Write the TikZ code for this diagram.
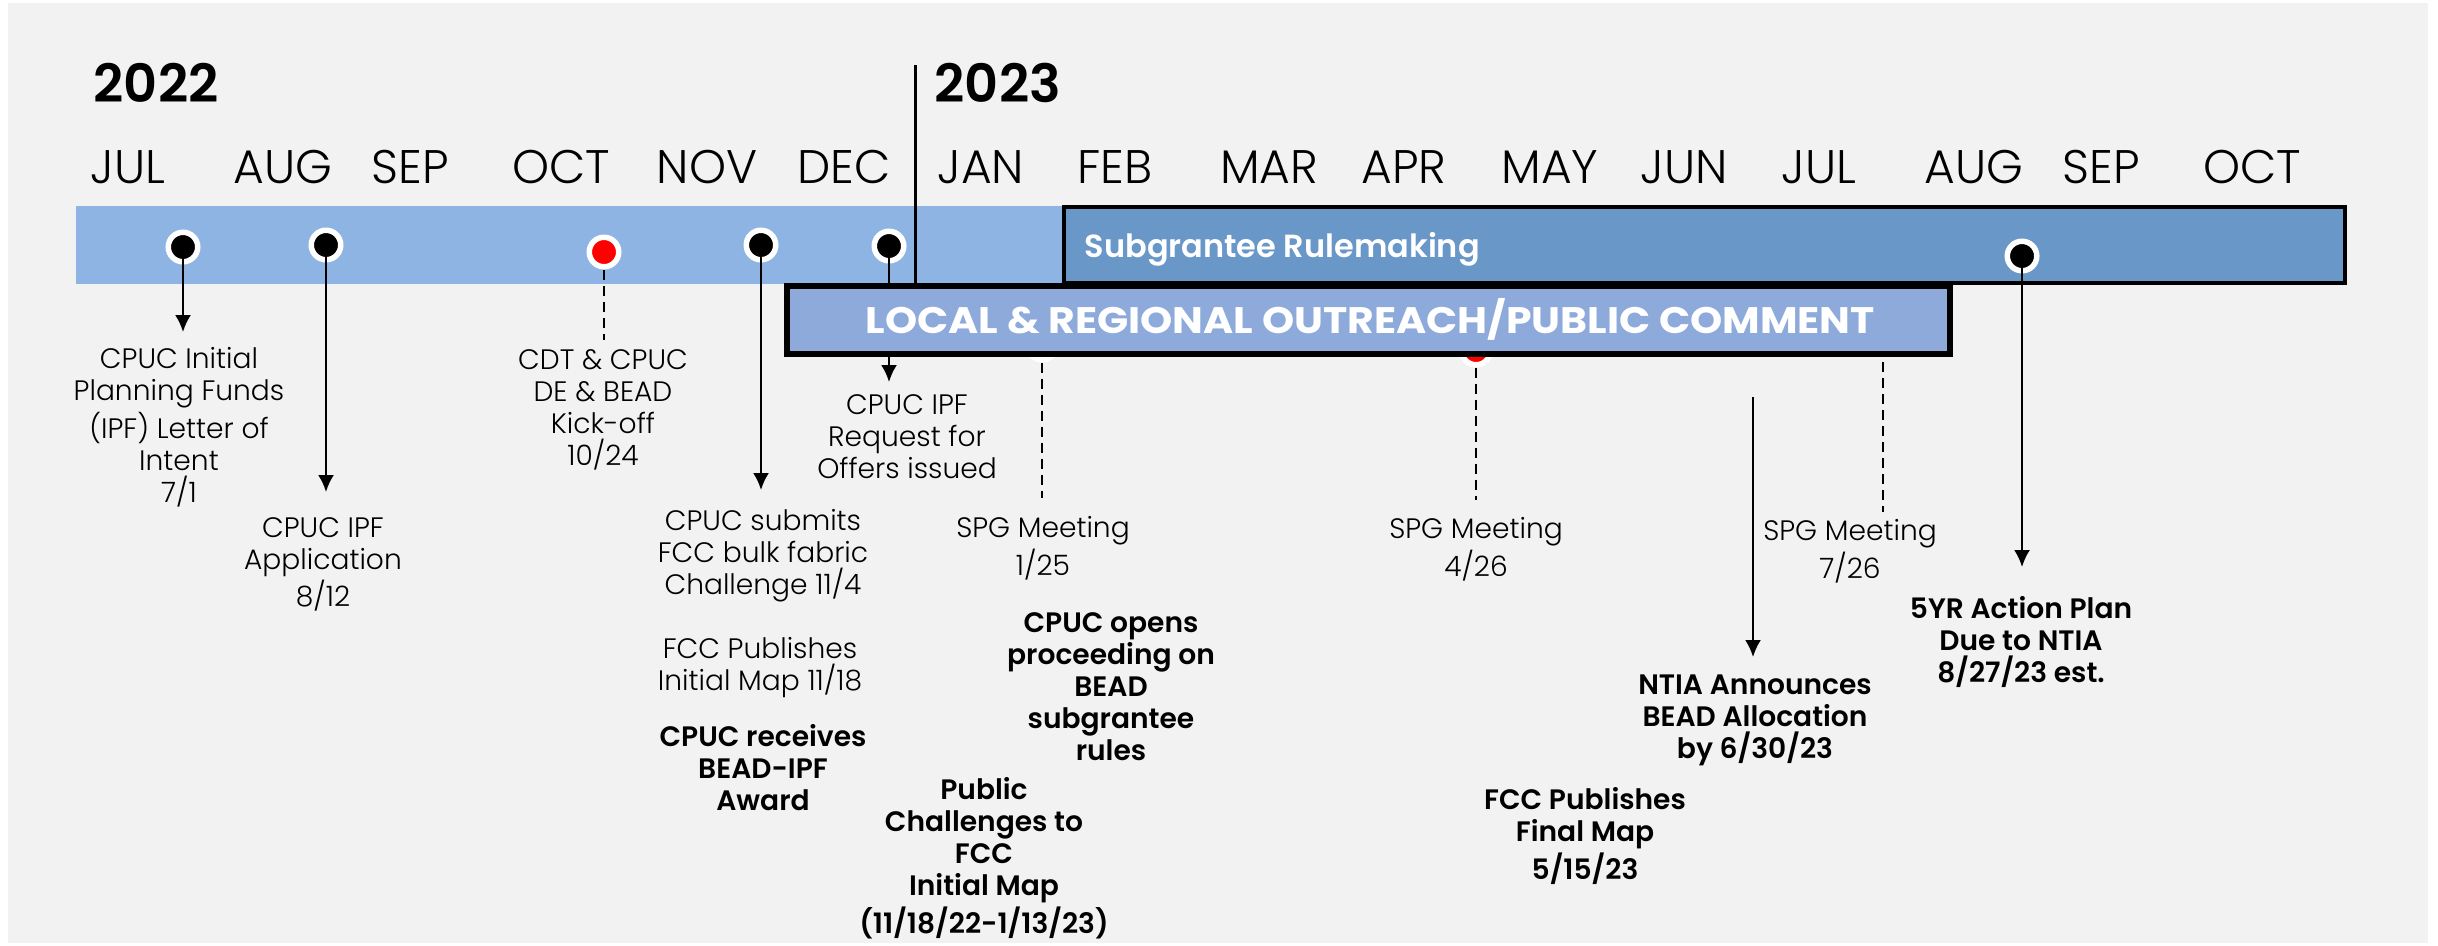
\documentclass[tikz,border=0pt]{standalone}
\usepackage{fontspec}
\setmainfont{Poppins}[UprightFont=* Light, BoldFont=* SemiBold]
\newfontfamily\bannerfont{Poppins}[FakeStretch=1.11]
\usetikzlibrary{arrows.meta}

\definecolor{pagegray}{HTML}{F2F2F2}
\definecolor{barblue}{HTML}{8EB4E3}
\definecolor{ruleblue}{HTML}{6897C8}
\definecolor{outreachblue}{HTML}{8EAADB}

\begin{document}
\begin{tikzpicture}[x=0.1mm, y=-0.1mm,
    dot/.style={circle, fill=black, draw=white, line width=0.55mm, minimum size=2.95mm, inner sep=0},
    reddot/.style={dot, fill=red},
    link/.style={line width=0.23mm, -{Latex[length=1.7mm, width=1.6mm]}},
    dashlink/.style={line width=0.2mm, dash pattern=on 1mm off 0.6mm},
    lbl/.style={anchor=north, align=center, inner sep=0, font=\fontsize{8pt}{9.1pt}\selectfont},
    blbl/.style={lbl, font=\fontsize{8pt}{9.1pt}\selectfont\bfseries},
    month/.style={anchor=base, inner sep=0, font=\fontsize{13.4pt}{14pt}\selectfont},
    year/.style={anchor=base west, inner sep=0, font=\fontsize{15pt}{16pt}\selectfont\bfseries}]
    \useasboundingbox (0,0) rectangle (2438,945);
    \fill[white] (0,0) rectangle (2438,945);
    \fill[pagegray] (8,3) rectangle (2428,943);

    % years and months
    \node[year] (y2022) at (93,102) {2022};
    \node[year] (y2023) at (934,102) {2023};
    \foreach \m/\x [count=\i] in {JUL/128, AUG/283, SEP/410, OCT/561, NOV/707, DEC/844,
        JAN/981, FEB/1115, MAR/1269, APR/1404, MAY/1550, JUN/1684, JUL/1819,
        AUG/1974, SEP/2101, OCT/2252}
        \node[month] (month\i) at (\x,183) {\m};

    % timeline bars
    \fill[barblue] (76,206) rectangle (1064,284);
    \draw[line width=0.4mm, fill=ruleblue] (1064,207) rectangle (2345,283);
    \node[anchor=base west, inner sep=0, text=white, font=\fontsize{9.1pt}{10pt}\selectfont\bfseries]
        (rulemaking) at (1084,257) {Subgrantee Rulemaking};
    \coordinate (split) at (915,65);
    \draw[line width=0.3mm] (split) -- (915,300);

    % milestones
    \node[dot] (letter) at (183,247) {};
    \node[dot] (application) at (326,245) {};
    \node[reddot] (kickoff) at (604,252) {};
    \node[dot] (bulkfabric) at (761,245) {};
    \node[dot] (offers) at (889,246) {};
    \node[reddot] (spgjan) at (1042,345) {};
    \node[reddot] (spgapr) at (1476,350) {};
    \node[dot] (actionplan) at (2022,256) {};

    \coordinate (letterend) at (183,332);
    \coordinate (applicationend) at (326,492);
    \coordinate (kickoffend) at (604,340);
    \coordinate (bulkfabricend) at (761,490);
    \coordinate (offersend) at (889,382);
    \coordinate (spgjanend) at (1042,498);
    \coordinate (spgaprend) at (1476,500);
    \coordinate (allocationstart) at (1753,397);
    \coordinate (allocationend) at (1753,657);
    \coordinate (spgjulstart) at (1883,330);
    \coordinate (spgjulend) at (1883,512);
    \coordinate (actionplanend) at (2022,567);

    \draw[link] (letter.center) -- (letterend);
    \draw[link] (application.center) -- (applicationend);
    \draw[dashlink] (kickoff.south) -- (kickoffend);
    \draw[link] (bulkfabric.center) -- (bulkfabricend);
    \draw[link] (offers.center) -- (offersend);
    \draw[dashlink] (spgjan.south) -- (spgjanend);
    \draw[dashlink] (spgapr.south) -- (spgaprend);
    \draw[link] (allocationstart) -- (allocationend);
    \draw[dashlink] (spgjulstart) -- (spgjulend);
    \draw[link] (actionplan.center) -- (actionplanend);

    % outreach period
    \draw[line width=0.6mm, fill=outreachblue] (787,286) rectangle (1950,354);
    \node[anchor=base west, inner sep=0, text=white, font=\bannerfont\fontsize{10.5pt}{11pt}\selectfont\bfseries]
        (outreach) at (865,333) {LOCAL \& REGIONAL OUTREACH/PUBLIC COMMENT};

    % labels
    \node[lbl] (letterlbl) at (179,347) {CPUC Initial\\Planning Funds\\(IPF) Letter of\\Intent\\7/1};
    \node[lbl] (applicationlbl) at (323,517) {CPUC IPF\\Application\\8/12};
    \node[lbl] (kickofflbl) at (603,349) {CDT \& CPUC\\DE \& BEAD\\Kick-off\\10/24};
    \node[lbl] (bulkfabriclbl) at (763,509) {CPUC submits\\FCC bulk fabric\\Challenge 11/4};
    \node[lbl] (initialmaplbl) at (760,637) {FCC Publishes\\Initial Map 11/18};
    \node[blbl] (awardlbl) at (763,724) {CPUC receives\\BEAD-IPF\\Award};
    \node[lbl] (offerslbl) at (907,394) {CPUC IPF\\Request for\\Offers issued};
    \node[lbl] (spgjanlbl) at (1043,516) {SPG Meeting\\1/25};
    \node[blbl] (proceedinglbl) at (1111,612) {CPUC opens\\proceeding on\\BEAD\\subgrantee\\rules};
    \node[blbl] (challengeslbl) at (984,777) {Public\\Challenges to\\FCC\\Initial Map\\(11/18/22-1/13/23)};
    \node[lbl] (spgaprlbl) at (1476,517) {SPG Meeting\\4/26};
    \node[blbl] (finalmaplbl) at (1585,787) {FCC Publishes\\Final Map\\5/15/23};
    \node[blbl] (allocationlbl) at (1755,674) {NTIA Announces\\BEAD Allocation\\by 6/30/23};
    \node[lbl] (spgjullbl) at (1850,519) {SPG Meeting\\7/26};
    \node[blbl] (actionplanlbl) at (2021,596) {5YR Action Plan\\Due to NTIA\\8/27/23 est.};
\end{tikzpicture}
\end{document}
